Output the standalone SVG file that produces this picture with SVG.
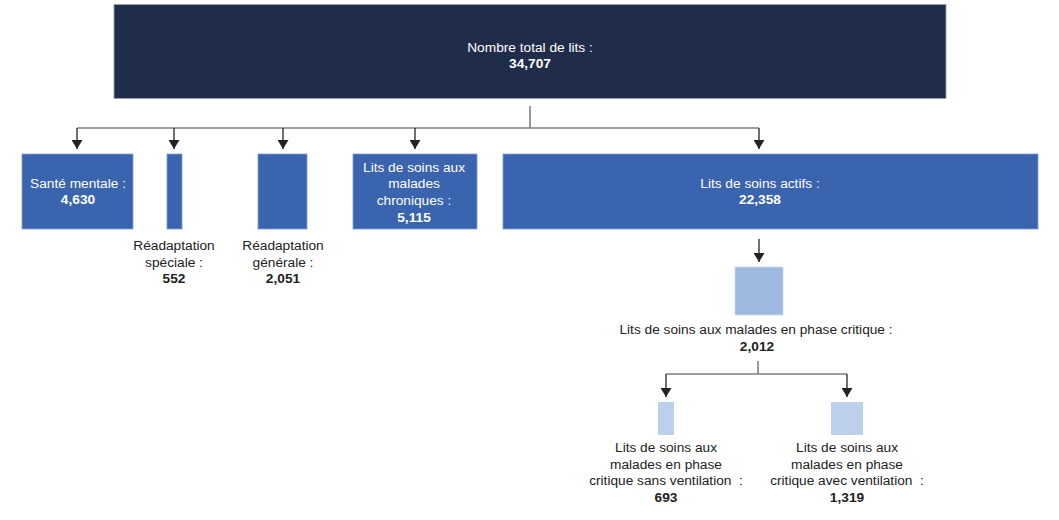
<svg xmlns="http://www.w3.org/2000/svg" width="1059" height="520" viewBox="0 0 1059 520">
<style>
text{font-family:"Liberation Sans",Arial,sans-serif;font-size:13.7px;text-anchor:middle}
.w{fill:#ffffff}
.d{fill:#222222}
.b{font-weight:bold}
.top{fill:#1f2d4a;stroke:#9aa3b5;stroke-width:0.8}
.mid{fill:#3a64ae;stroke:#7e9ed6;stroke-width:0.8}
.lt1{fill:#9fbae0;stroke:#c9d8ef;stroke-width:0.8}
.lt2{fill:#bcd0ec}
.bus{stroke:#808080;stroke-width:1.6;fill:none}
.arr{stroke:#222222;stroke-width:1.3;fill:none;marker-end:url(#ah)}
</style>
<defs>
<marker id="ah" markerUnits="userSpaceOnUse" markerWidth="9" markerHeight="11" refX="9" refY="5.5" orient="auto" viewBox="0 0 9 11">
<path d="M0,0 L9,5.5 L0,11 z" fill="#222222"/>
</marker>
</defs>
<rect width="1059" height="520" fill="#ffffff"/>
<g id="connectors">
<path class="bus" d="M530,106 V128 M77,128 H759"/>
<line class="arr" x1="77" y1="128" x2="77" y2="149"/>
<line class="arr" x1="174" y1="128" x2="174" y2="149"/>
<line class="arr" x1="283" y1="128" x2="283" y2="149"/>
<line class="arr" x1="415" y1="128" x2="415" y2="149"/>
<line class="arr" x1="759" y1="128" x2="759" y2="149"/>
<line class="arr" x1="759" y1="239" x2="759" y2="262"/>
<path class="bus" d="M758,361 V374 M666,374 H847"/>
<line class="arr" x1="666" y1="374" x2="666" y2="397"/>
<line class="arr" x1="847" y1="374" x2="847" y2="397"/>
</g>
<g id="total">
<rect class="top" x="114" y="4.5" width="832" height="94"/>
<text class="w" x="530" y="52">Nombre total de lits :</text>
<text class="w b" x="530" y="68">34,707</text>
</g>
<g id="sante-mentale">
<rect class="mid" x="22" y="154" width="111" height="75"/>
<text class="w" x="78" y="188">Santé mentale :</text>
<text class="w b" x="78" y="204">4,630</text>
</g>
<g id="readaptation-speciale">
<rect class="mid" x="167" y="154" width="15" height="75"/>
<text class="d" x="174" y="250">Réadaptation</text>
<text class="d" x="174" y="266.5">spéciale :</text>
<text class="d b" x="174" y="283">552</text>
</g>
<g id="readaptation-generale">
<rect class="mid" x="258" y="154" width="49" height="75"/>
<text class="d" x="283" y="250">Réadaptation</text>
<text class="d" x="283" y="266.5">générale :</text>
<text class="d b" x="283" y="283">2,051</text>
</g>
<g id="chroniques">
<rect class="mid" x="353" y="154" width="124" height="75"/>
<text class="w" x="414" y="171.5">Lits de soins aux</text>
<text class="w" x="414" y="188">malades</text>
<text class="w" x="414" y="205">chroniques :</text>
<text class="w b" x="414" y="221.5">5,115</text>
</g>
<g id="actifs">
<rect class="mid" x="503" y="154" width="535" height="75"/>
<text class="w" x="760" y="188">Lits de soins actifs :</text>
<text class="w b" x="760" y="204">22,358</text>
</g>
<g id="phase-critique">
<rect class="lt1" x="735" y="267" width="48" height="48"/>
<text class="d" x="756" y="334">Lits de soins aux malades en phase critique :</text>
<text class="d b" x="757" y="351">2,012</text>
</g>
<g id="sans-ventilation">
<rect class="lt2" x="658" y="402" width="16" height="33"/>
<text class="d" x="666" y="452">Lits de soins aux</text>
<text class="d" x="666" y="468.5">malades en phase</text>
<text class="d" x="666" y="485">critique sans ventilation&#160; :</text>
<text class="d b" x="666" y="502">693</text>
</g>
<g id="avec-ventilation">
<rect class="lt2" x="831" y="402" width="32" height="33"/>
<text class="d" x="847" y="452">Lits de soins aux</text>
<text class="d" x="847" y="468.5">malades en phase</text>
<text class="d" x="847" y="485">critique avec ventilation&#160; :</text>
<text class="d b" x="847" y="502">1,319</text>
</g>
</svg>
